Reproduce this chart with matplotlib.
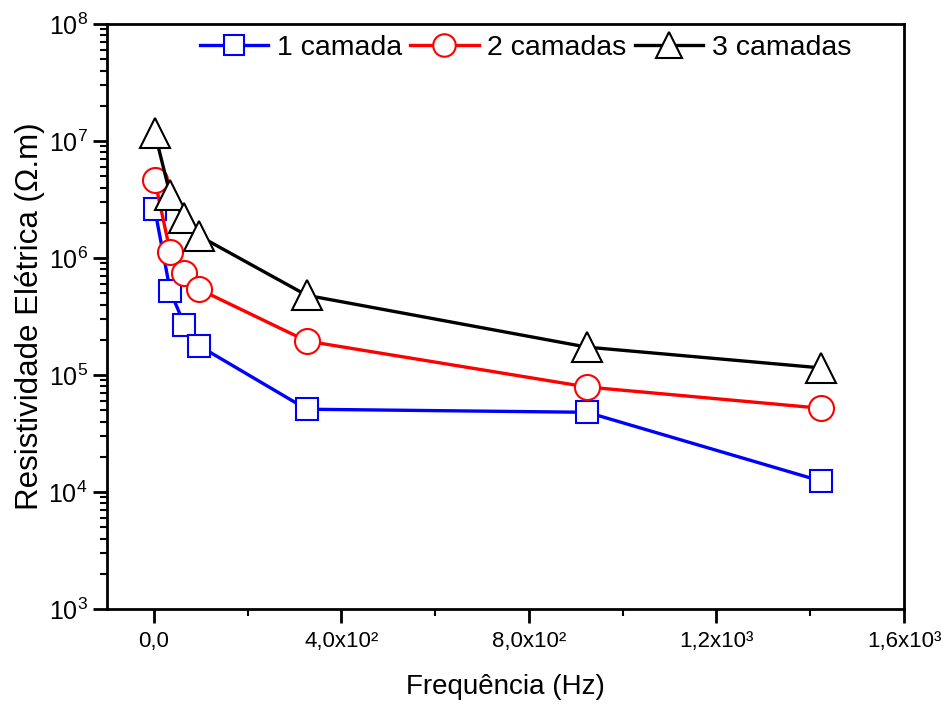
import math
import matplotlib
matplotlib.use("Agg")
import matplotlib.pyplot as plt
from matplotlib.ticker import FixedLocator, FuncFormatter, LogLocator, NullFormatter

plt.rcParams["font.family"] = ["Liberation Sans", "DejaVu Sans"]
plt.rcParams["mathtext.fontset"] = "custom"
plt.rcParams["mathtext.rm"] = "Liberation Sans"
plt.rcParams["mathtext.it"] = "Liberation Sans:italic"

# Frequency (Hz) and electrical resistivity (Ohm.m) per number of layers
freq = [2, 35, 65, 97, 326, 924, 1423]
res_1 = [2.6e6, 5.2e5, 2.7e5, 1.77e5, 5.1e4, 4.8e4, 1.24e4]
res_2 = [4.6e6, 1.12e6, 7.4e5, 5.4e5, 1.95e5, 7.9e4, 5.2e4]
res_3 = [1.17e7, 3.45e6, 2.2e6, 1.54e6, 4.8e5, 1.73e5, 1.15e5]
labels = ["1 camada", "2 camadas", "3 camadas"]
x_ticks = [0, 400, 800, 1200, 1600]
x_tick_labels = ["0,0", "4,0x10\u00b2", "8,0x10\u00b2", "1,2x10\u00b3", "1,6x10\u00b3"]

fig = plt.figure(figsize=(9.44, 7.04), dpi=100)
ax = fig.add_axes([107 / 944, 1 - 609 / 704, (904 - 107) / 944, (609 - 24) / 704])

styles = [
    dict(color="#0000ff", marker="s", ms=16),
    dict(color="#ff0000", marker="o", ms=18),
    dict(color="black", marker="^", ms=21),
]
for y, lab, st in zip([res_1, res_2, res_3], labels, styles):
    ax.plot(freq, y, color=st["color"], lw=2.4, marker=st["marker"], ms=st["ms"],
            mfc="white", mec=st["color"], mew=1.5, label=lab)

ax.set_yscale("log")
ax.set_ylim(1e3, 1e8)
ax.set_xlim(-100, 1600)

ax.xaxis.set_major_locator(FixedLocator(x_ticks))
ax.set_xticklabels(x_tick_labels, fontsize=16)
ax.xaxis.set_minor_locator(FixedLocator([200, 600, 1000, 1400]))
ax.yaxis.set_major_locator(LogLocator(base=10, numticks=10))
ax.yaxis.set_minor_locator(LogLocator(base=10, subs=range(2, 10), numticks=100))
ax.yaxis.set_minor_formatter(NullFormatter())
ax.yaxis.set_major_formatter(FuncFormatter(lambda v, p: r"10$^{%d}$" % round(math.log10(v))))

ax.tick_params(axis="both", which="major", direction="out", length=10, width=2)
ax.tick_params(axis="y", which="major", labelsize=18, pad=4)
ax.tick_params(axis="both", which="minor", direction="out", length=5, width=1.5)
ax.tick_params(axis="x", which="major", pad=6)
for s in ax.spines.values():
    s.set_linewidth(2)

ax.set_xlabel("Frequência (Hz)", fontsize=20)
ax.set_ylabel("Resistividade Elétrica (\u03a9.m)", fontsize=22.5)
ax.xaxis.set_label_coords((505 - 107) / 797, (609 - 674) / 585)
ax.yaxis.set_label_coords((45 - 107) / 797, 0.5)

ax.legend(loc="upper center", bbox_to_anchor=(0.525, 1.02), ncol=3, frameon=False,
          fontsize=20.5, handlelength=2.4, handletextpad=0.3, columnspacing=0.3,
          borderaxespad=0.4, markerscale=0.9)

fig.savefig("out.png", dpi=100)
